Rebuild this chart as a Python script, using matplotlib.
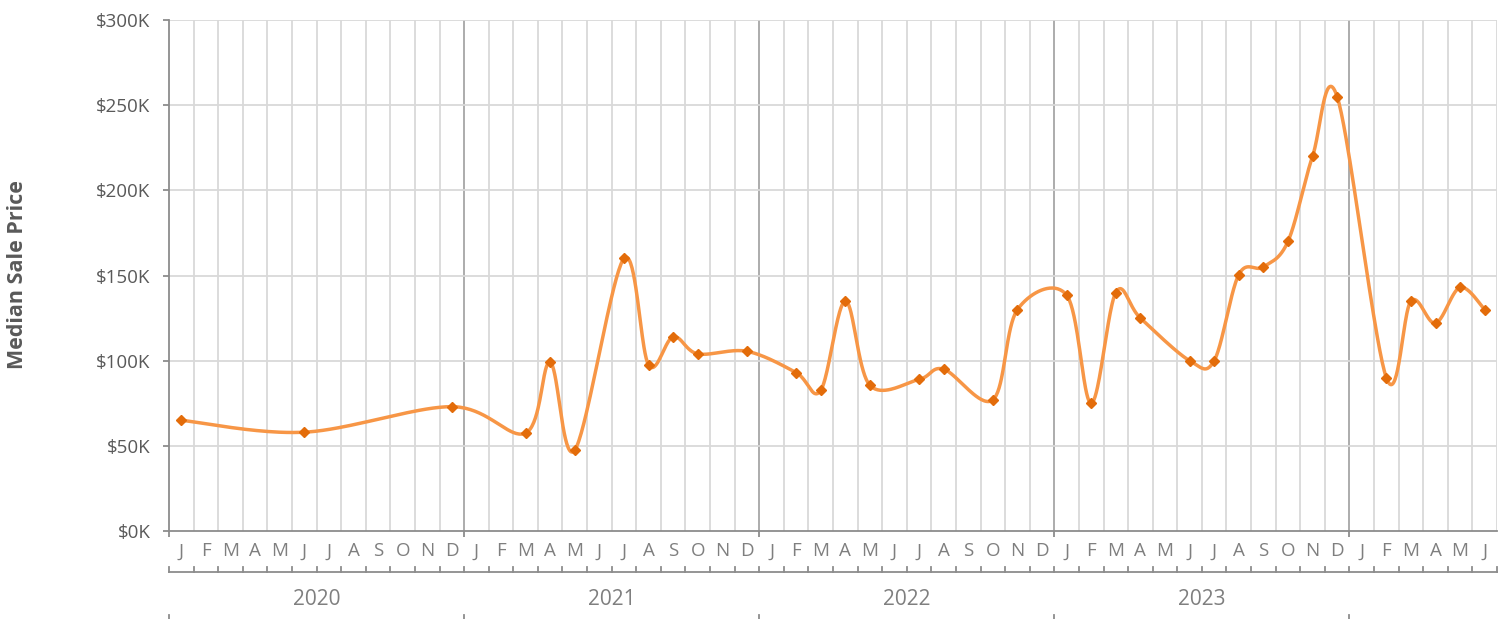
import matplotlib
matplotlib.use("Agg")
import matplotlib.pyplot as plt
import numpy as np
from matplotlib.ticker import FuncFormatter

plt.rcParams['font.family'] = ['Open Sans', 'DejaVu Sans']

# months Jan 2020 .. Jun 2024
month_letters = list("JFMAMJJASOND") * 4 + list("JFMAMJ")
years = ["2020", "2021", "2022", "2023"]

# month index (0 = Jan 2020) and median sale price in $K
month_idx = [0, 5, 11, 14, 15, 16, 18, 19, 20, 21, 23, 25, 26, 27, 28, 30, 31,
             33, 34, 36, 37, 38, 39, 41, 42, 43, 44, 45, 46, 47, 49, 50, 51, 52, 53]
price_k = [65, 58, 73, 57.5, 99, 47.5, 160, 97.5, 114, 104, 105.5, 93, 82.5, 135,
           85.5, 89, 95, 77, 130, 138.5, 75, 140, 125, 100, 100, 150.5, 155, 170,
           220, 255, 90, 135, 122, 143, 130]

LINE = '#F79646'
MARK = '#E36C0A'
GRID = '#D9D9D9'
YEARGRID = '#A6A6A6'
AXC = '#8C8C8C'
TXT = '#595959'
TXT2 = '#7F7F7F'


def smooth(xs, ys, sx, sy, n=40):
    # Excel-like smoothing (Catmull-Rom as cubic Bezier), done in screen-ish units
    p = np.column_stack([np.asarray(xs, float) * sx, np.asarray(ys, float) * sy])
    pts = np.vstack([p[0], p, p[-1]])
    t = np.linspace(0, 1, n)[:, None]
    out = []
    for i in range(1, len(pts) - 2):
        p0, p1, p2, p3 = pts[i - 1], pts[i], pts[i + 1], pts[i + 2]
        c1 = p1 + (p2 - p0) / 6
        c2 = p2 - (p3 - p1) / 6
        seg = ((1 - t) ** 3) * p1 + 3 * ((1 - t) ** 2) * t * c1 + 3 * (1 - t) * t ** 2 * c2 + t ** 3 * p2
        out.append(seg)
    out = np.vstack(out)
    return out[:, 0] / sx, out[:, 1] / sy


fig = plt.figure(figsize=(15.11, 6.19), dpi=100)
ax = fig.add_axes([169 / 1511, 1 - 531 / 619, 1328 / 1511, 511 / 619])

n_months = len(month_letters)
ax.set_xlim(0, n_months)
ax.set_ylim(0, 300)

# grid
for b in range(1, n_months + 1):
    ax.axvline(b, color=YEARGRID if b % 12 == 0 else GRID, lw=1.3, zorder=0)
for yv in range(50, 301, 50):
    ax.axhline(yv, color=GRID, lw=1.3, zorder=0)

xc = np.array(month_idx) + 0.5
sx_, sy_ = smooth(xc, price_k, 24.6, 1.703)
ax.plot(sx_, sy_, color=LINE, lw=2.5, zorder=3, solid_capstyle='round')
ax.plot(xc, price_k, 'D', color=MARK, markersize=5, zorder=4)

for s in ['top', 'right']:
    ax.spines[s].set_visible(False)
for s in ['left', 'bottom']:
    ax.spines[s].set_color(AXC)
    ax.spines[s].set_linewidth(1.3)

ax.set_yticks(range(0, 301, 50))
ax.yaxis.set_major_formatter(FuncFormatter(lambda v, p: f"${int(v)}K"))
ax.tick_params(axis='y', length=4.3, width=1.3, color=AXC, labelsize=13.5,
               labelcolor=TXT, pad=9)

# month level labels
ax.set_xticks([0, 12, 24, 36, 48])
ax.set_xticklabels([])
ax.tick_params(axis='x', length=4.3, width=1.3, color=AXC, direction='out')
tr = ax.get_xaxis_transform()
for i, m in enumerate(month_letters):
    ax.text(i + 0.5, -0.040, m, transform=tr, ha='center',
            va='center', fontsize=13.5, color=TXT2)

ax.plot([0, n_months], [-0.0802, -0.0802], transform=tr, color=AXC, lw=1.3, clip_on=False)
for b in range(0, n_months + 1):
    ax.plot([b, b], [-0.0802, -0.0702], transform=tr, color=AXC, lw=1.3, clip_on=False)

for k, yr in enumerate(years):
    ax.text(12 * k + 6, -0.135, yr, transform=tr, ha='center', va='center',
            fontsize=15, color=TXT2)
for b in range(0, n_months, 12):
    ax.plot([b, b], [-0.164, -0.185], transform=tr, color=AXC, lw=1.3, clip_on=False)

fig.text(18 / 1511, 1 - 275 / 619, "Median Sale Price", rotation=90, ha='center',
         va='center', fontsize=15.5, fontweight='bold', color=TXT)

fig.savefig("out.png", dpi=100)
